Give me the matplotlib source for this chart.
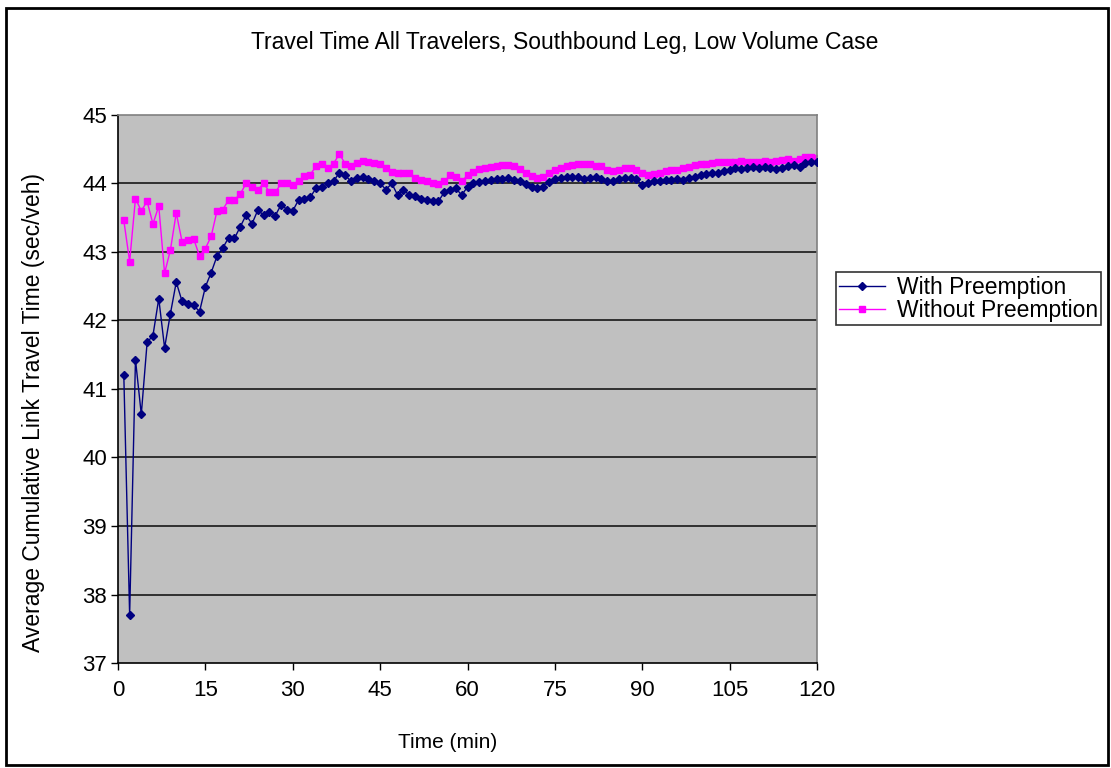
import numpy as np
import matplotlib
matplotlib.use("Agg")
import matplotlib.pyplot as plt
from matplotlib.patches import Rectangle

plt.rcParams['font.family'] = ['Liberation Sans', 'DejaVu Sans']

# minutes 1..120
minutes = list(range(1, 121))

with_preemption = [
    41.20, 37.70, 41.43, 40.63, 41.68, 41.78, 42.32, 41.60, 42.10, 42.56,
    42.28, 42.24, 42.22, 42.13, 42.49, 42.70, 42.94, 43.06, 43.21, 43.20,
    43.37, 43.54, 43.41, 43.61, 43.54, 43.59, 43.53, 43.69, 43.62, 43.60,
    43.76, 43.78, 43.80, 43.93, 43.95, 44.00, 44.03, 44.16, 44.12, 44.03,
    44.08, 44.10, 44.06, 44.04, 44.00, 43.91, 44.00, 43.83, 43.91, 43.83,
    43.81, 43.78, 43.76, 43.74, 43.74, 43.87, 43.90, 43.93, 43.83, 43.95,
    44.00, 44.02, 44.03, 44.05, 44.06, 44.07, 44.08, 44.05, 44.03, 43.99,
    43.95, 43.93, 43.95, 44.02, 44.06, 44.08, 44.09, 44.10, 44.10, 44.06,
    44.08, 44.10, 44.07, 44.03, 44.04, 44.06, 44.08, 44.08, 44.06, 43.98,
    44.00, 44.03, 44.03, 44.05, 44.05, 44.06, 44.05, 44.08, 44.10, 44.12,
    44.14, 44.15, 44.16, 44.18, 44.20, 44.22, 44.21, 44.23, 44.24, 44.22,
    44.24, 44.23, 44.21, 44.23, 44.25, 44.27, 44.24, 44.30, 44.31, 44.32,
]

without_preemption = [
    43.46, 42.86, 43.78, 43.60, 43.74, 43.41, 43.67, 42.69, 43.03, 43.57,
    43.15, 43.18, 43.19, 42.94, 43.05, 43.23, 43.60, 43.62, 43.76, 43.76,
    43.85, 44.00, 43.95, 43.91, 44.00, 43.88, 43.87, 44.00, 44.00, 43.98,
    44.04, 44.11, 44.13, 44.25, 44.29, 44.22, 44.29, 44.43, 44.29, 44.25,
    44.30, 44.33, 44.32, 44.30, 44.29, 44.22, 44.17, 44.16, 44.16, 44.15,
    44.08, 44.05, 44.03, 44.00, 43.99, 44.03, 44.12, 44.10, 44.03, 44.12,
    44.17, 44.21, 44.22, 44.24, 44.25, 44.27, 44.27, 44.25, 44.21, 44.15,
    44.11, 44.08, 44.10, 44.16, 44.20, 44.23, 44.25, 44.27, 44.29, 44.29,
    44.28, 44.26, 44.25, 44.20, 44.18, 44.19, 44.22, 44.22, 44.20, 44.16,
    44.12, 44.14, 44.16, 44.18, 44.20, 44.20, 44.22, 44.24, 44.27, 44.28,
    44.29, 44.30, 44.32, 44.31, 44.32, 44.31, 44.33, 44.32, 44.31, 44.32,
    44.33, 44.31, 44.33, 44.34, 44.35, 44.33, 44.36, 44.38, 44.38, 44.37,
]

x_ticks = [0, 15, 30, 45, 60, 75, 90, 105, 120]
y_ticks = [37, 38, 39, 40, 41, 42, 43, 44, 45]

fig = plt.figure(figsize=(11.11, 7.68), dpi=100)
fig.patch.set_facecolor("white")
ax = fig.add_axes([0.1062, 0.1367, 0.6292, 0.7136])
ax.set_facecolor("#C0C0C0")

for y in y_ticks[1:-1]:
    ax.axhline(y, color="#303030", lw=1.4, zorder=1)

ax.plot(minutes, with_preemption, color="#000080", lw=1, marker="D",
        markersize=4, label="With Preemption", zorder=3)
ax.plot(minutes, without_preemption, color="#FF00FF", lw=1, marker="s",
        markersize=5, label="Without Preemption", zorder=2)

ax.set_xlim(0, 120)
ax.set_ylim(37, 45)
ax.set_xticks(x_ticks)
ax.set_yticks(y_ticks)
ax.tick_params(direction="out", length=5, width=1, labelsize=16)
ax.tick_params(axis="y", pad=3)
ax.tick_params(axis="x", pad=7)

for side in ["left", "bottom"]:
    ax.spines[side].set_color("black")
    ax.spines[side].set_linewidth(1.2)
for side in ["top", "right"]:
    ax.spines[side].set_color("#808080")
    ax.spines[side].set_linewidth(1.2)

ax.set_xlabel("Time (min)", fontsize=15)
ax.xaxis.set_label_coords(0.472, -0.128)
ax.set_ylabel("Average Cumulative Link Travel Time (sec/veh)", fontsize=16.5)
ax.yaxis.set_label_coords(-0.105, 0.458)

fig.text(0.5086, 0.945, "Travel Time All Travelers, Southbound Leg, Low Volume Case",
         ha="center", va="center", fontsize=16.5)

leg = fig.legend(loc="center left", bbox_to_anchor=(0.7525, 0.6113), fontsize=16.5,
                 frameon=True, fancybox=False, edgecolor="black",
                 handlelength=2.0, borderpad=0.15, labelspacing=0.0,
                 handletextpad=0.5, borderaxespad=0)
leg.get_frame().set_linewidth(1.2)

# outer chart border
fig.patches.append(Rectangle((0.005, 0.004), 0.992, 0.986, transform=fig.transFigure,
                             fill=False, edgecolor="black", lw=2))

fig.savefig("out.png", dpi=100)
